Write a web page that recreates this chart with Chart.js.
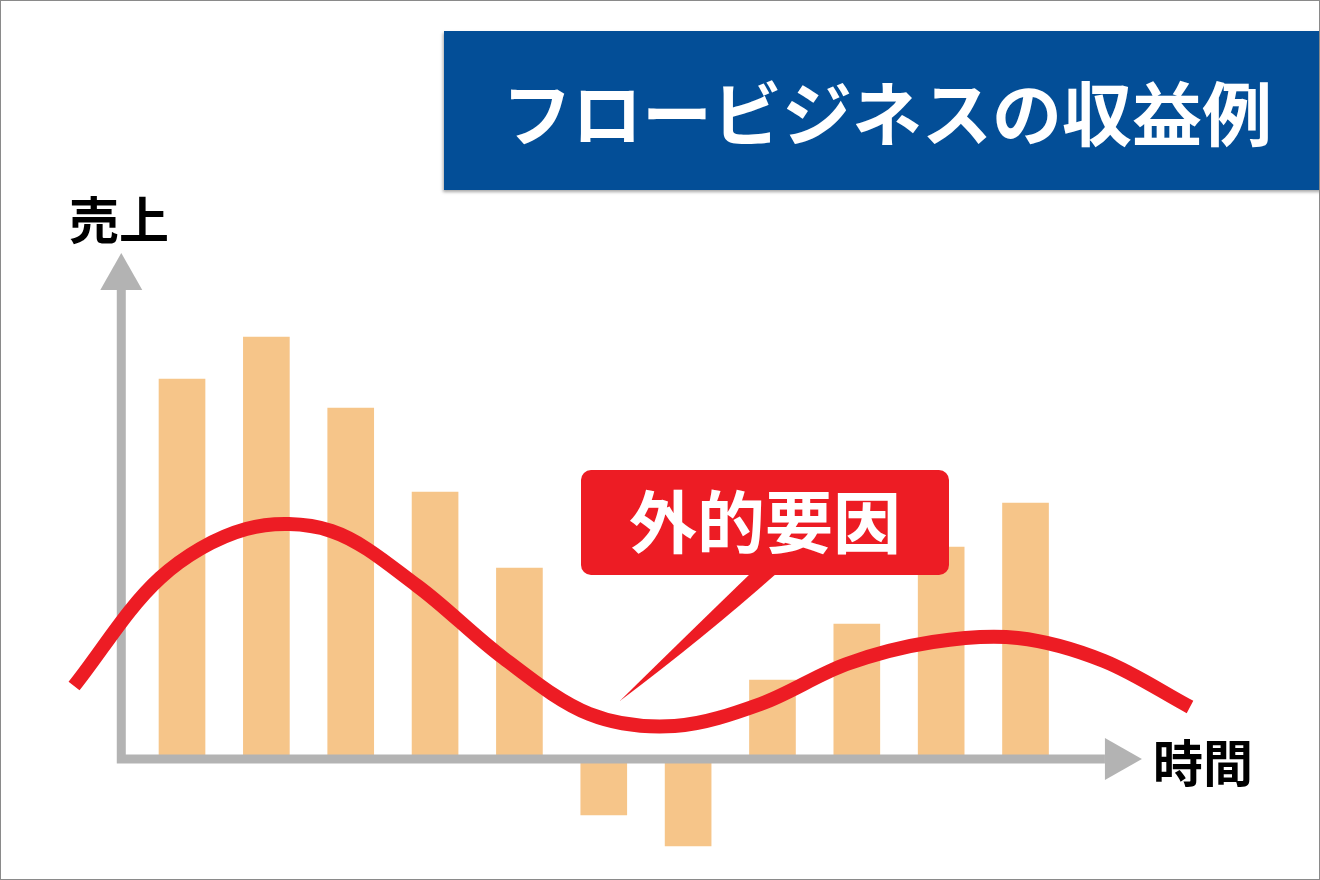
<!DOCTYPE html>
<html lang="ja">
<head>
  <meta charset="UTF-8">
  <title>フロービジネスの収益例</title>
  <script src="https://cdn.jsdelivr.net/npm/chart.js"></script>
  <style>
    body { margin: 0; background: #fff; }
    #page {
      position: relative;
      width: 1320px;
      height: 880px;
      box-sizing: border-box;
      border: 1px solid #8a8a8a;
      overflow: hidden;
      font-family: "Noto Sans CJK JP", "Noto Sans", sans-serif;
    }
    #chart { position: absolute; left: 0; top: 0; }
    #title {
      position: absolute;
      left: 443px; top: 30px;
      width: 880px; height: 159px;
      background: #034e97;
      box-shadow: -1px 2px 3px rgba(0, 0, 0, 0.35);
      color: #fff;
      font-weight: 700;
      font-size: 70px;
      line-height: 159px;
      text-align: center;
      padding-left: 6px;
      box-sizing: border-box;
    }
  </style>
</head>
<body>
  <div id="page">
    <canvas id="chart" width="1320" height="880"></canvas>
    <div id="title">フロービジネスの収益例</div>
  </div>

  <script>
    // 期間ごとの売上（棒）
    const periods = [1, 2, 3, 4, 5, 6, 7, 8, 9, 10, 11];
    const sales = [38.0, 42.2, 35.1, 26.7, 19.1, -5.6, -8.7, 7.9, 13.5, 21.2, 25.6];

    // 外的要因の波（赤い曲線）
    const waveX = [-0.28, 0.74, 1.76, 2.77, 3.79, 4.81, 5.83, 6.84, 7.86, 8.88, 9.90, 10.91, 11.93, 12.95];
    const waveY = [7.3, 18.1, 23.0, 22.8, 17.3, 10.1, 4.5, 3.3, 5.5, 9.5, 11.7, 12.1, 9.8, 5.2];

    const yLabel = '売上';
    const xLabel = '時間';
    const calloutText = '外的要因';
    const calloutTarget = { x: 6.19, y: 5.8 };

    // 軸の範囲（データ単位）
    const axisStartX = 0.28, axisEndX = 12.38, axisTopY = 50.6;

    const GRAY = '#b3b3b3';
    const RED = '#ed1c24';
    const FONT = '"Noto Sans CJK JP", "Noto Sans", sans-serif';

    // 軸・矢印・ラベルと吹き出しを描くプラグイン
    const decor = {
      id: 'decor',
      afterDatasetDraw(chart, args) {
        if (args.index !== 1) return; // 棒の後、曲線の前
        const ctx = chart.ctx;
        const xs = chart.scales.x, ys = chart.scales.y;
        const ax = xs.getPixelForValue(axisStartX);
        const ay = ys.getPixelForValue(0);
        const tipX = xs.getPixelForValue(axisEndX);
        const tipY = ys.getPixelForValue(axisTopY);
        const head = 37, half = 21;
        ctx.save();
        ctx.strokeStyle = GRAY;
        ctx.fillStyle = GRAY;
        ctx.lineWidth = 9;
        ctx.lineJoin = 'miter';
        ctx.beginPath();
        ctx.moveTo(ax, tipY + head);
        ctx.lineTo(ax, ay);
        ctx.lineTo(tipX - head, ay);
        ctx.stroke();
        // 矢印（上）
        ctx.beginPath();
        ctx.moveTo(ax, tipY);
        ctx.lineTo(ax - half, tipY + head);
        ctx.lineTo(ax + half, tipY + head);
        ctx.closePath();
        ctx.fill();
        // 矢印（右）
        ctx.beginPath();
        ctx.moveTo(tipX, ay);
        ctx.lineTo(tipX - head, ay - half);
        ctx.lineTo(tipX - head, ay + half);
        ctx.closePath();
        ctx.fill();
        // 軸ラベル
        ctx.fillStyle = '#000';
        ctx.font = '700 50px ' + FONT;
        ctx.textAlign = 'center';
        ctx.textBaseline = 'middle';
        ctx.fillText(yLabel, 118, 219);
        ctx.fillText(xLabel, 1202, 762);
        ctx.restore();
      },
      afterDatasetsDraw(chart) {
        const ctx = chart.ctx;
        const px = chart.scales.x.getPixelForValue(calloutTarget.x);
        const py = chart.scales.y.getPixelForValue(calloutTarget.y);
        ctx.save();
        ctx.fillStyle = RED;
        ctx.beginPath();
        ctx.roundRect(580, 469, 368, 105, 10);
        ctx.fill();
        // 吹き出しのしっぽ
        ctx.beginPath();
        ctx.moveTo(750, 572);
        ctx.quadraticCurveTo(690, 630, px, py);
        ctx.quadraticCurveTo(705, 635, 776, 572);
        ctx.closePath();
        ctx.fill();
        ctx.fillStyle = '#fff';
        ctx.font = '700 68px ' + FONT;
        ctx.textAlign = 'center';
        ctx.textBaseline = 'middle';
        ctx.fillText(calloutText, 764, 521);
        ctx.restore();
      }
    };

    function draw() {
      const ctx = document.getElementById('chart').getContext('2d');
      new Chart(ctx, {
        type: 'bar',
        data: {
          datasets: [
            {
              type: 'line',
              data: waveX.map((x, i) => ({ x: x, y: waveY[i] })),
              borderColor: RED,
              borderWidth: 14,
              borderCapStyle: 'butt',
              tension: 0.33,
              pointRadius: 0,
              fill: false,
              order: 0
            },
            {
              type: 'bar',
              data: periods.map((p, i) => ({ x: p, y: sales[i] })),
              backgroundColor: '#f6c589',
              borderWidth: 0,
              barThickness: 46,
              order: 1
            }
          ]
        },
        options: {
          responsive: false,
          animation: false,
          devicePixelRatio: 1,
          layout: { padding: 0 },
          plugins: { legend: { display: false }, tooltip: { enabled: false } },
          scales: {
            x: { type: 'linear', offset: false, min: -1.146, max: 14.503, display: false },
            y: { type: 'linear', min: -12.2, max: 75.8, display: false }
          }
        },
        plugins: [decor]
      });
    }

    document.fonts.load('700 68px "Noto Sans CJK JP"', 'フロービジネスの収益例外的要因売上時間')
      .then(draw, draw);
  </script>
</body>
</html>
